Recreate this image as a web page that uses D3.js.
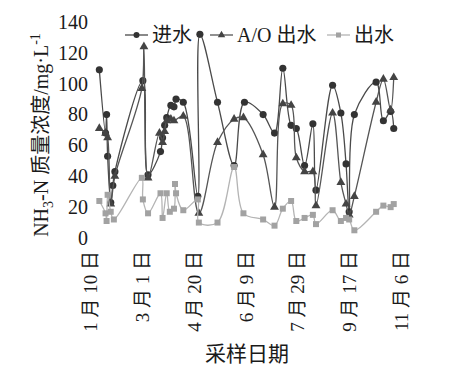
<!DOCTYPE html>
<html lang="zh">
  <head>
    <meta charset="utf-8" />
    <script src="https://d3js.org/d3.v7.min.js"></script>
    <style>
      body {
        margin: 0;
        background-color: #fff;
      }
      text {
        font-family: "Liberation Serif", "Noto Sans CJK SC", serif;
        fill: #1a1a1a;
      }
    </style>
  </head>
  <body>
    <div id="chart"></div>

    <script>
      // 采样日期 / 数值 (mg/L)
      const inDates = ["01-19","01-25","01-26","01-27","01-30","02-01","02-03","03-02","03-07","03-19","03-21","03-23","03-25","03-29","04-01","04-03","04-10","04-24","04-26","05-13","05-29","06-08","06-26","07-07","07-15","07-23","07-28","08-05","08-13","08-16","09-01","09-09","09-14","09-17","09-22","10-13","10-20","10-27","10-30"];
      const inValues = [109,68,80,53,23,34,43,102,41,56,65,73,78,86,85,90,88,27,132,88,47,88,80,68,110,73,71,47,74,31,99,81,48,17,80,101,76,82,71];

      const aoDates = ["01-19","01-25","01-27","01-30","02-03","03-01","03-03","03-07","03-18","03-21","03-23","03-25","03-29","04-01","04-10","04-25","05-13","05-29","06-07","06-26","07-07","07-15","07-23","07-28","08-05","08-13","08-16","09-01","09-09","09-14","09-17","09-22","10-13","10-20","10-27","10-30"];
      const aoValues = [71,68,65,22,40,97,124,39,68,62,69,76,77,76,79,16,62,77,78,54,20,87,86,52,43,43,21,81,36,22,15,27,88,103,83,104];

      const outDates = ["01-19","01-25","01-26","01-27","01-30","02-02","03-01","03-02","03-07","03-19","03-21","03-25","03-28","04-01","04-02","04-03","04-10","04-24","04-25","05-13","05-29","06-07","06-26","07-07","07-15","07-23","07-28","08-05","08-13","08-16","09-01","09-09","09-14","09-17","09-22","10-13","10-20","10-27","10-30"];
      const outValues = [24,16,11,28,17,12,39,25,16,29,13,29,17,19,35,29,18,25,10,10,46,16,12,8,19,24,11,13,15,9,18,11,13,12,5,17,21,20,22];

      const tickDates = ["01-10","03-01","04-20","06-09","07-29","09-17","11-06"];
      const tickLabels = ["1 月 10 日","3 月 1 日","4 月 20 日","6 月 9 日","7 月 29 日","9 月 17 日","11 月 6 日"];
      const yTicks = [0,20,40,60,80,100,120,140];

      const seriesNames = ["进水","A/O 出水","出水"];

      const width = 450;
      const height = 376;

      const parse = (s) => d3.timeParse("%Y-%m-%d")("2013-" + s);

      const svg = d3
        .select("#chart")
        .append("svg")
        .attr("width", width)
        .attr("height", height);

      const x = d3
        .scaleTime()
        .domain([parse("01-10"), parse("11-06")])
        .range([90, 401]);

      const y = d3.scaleLinear().domain([0, 140]).range([238, 22]);

      // y 轴
      const yAxis = svg
        .append("g")
        .attr("transform", "translate(91,0)")
        .call(d3.axisLeft(y).tickValues(yTicks).tickSize(0).tickPadding(3));
      yAxis.select(".domain").remove();
      yAxis.selectAll("text").style("font-size", "20px").attr("fill", "#1a1a1a");

      // x 轴
      const xAxis = svg
        .append("g")
        .attr("transform", "translate(0,246)")
        .call(
          d3
            .axisBottom(x)
            .tickValues(tickDates.map(parse))
            .tickSize(0)
            .tickFormat((d, i) => tickLabels[i])
        );
      xAxis.select(".domain").remove();
      xAxis
        .selectAll("text")
        .style("font-size", "19px")
        .attr("fill", "#1a1a1a")
        .attr("transform", "rotate(-90)")
        .attr("x", -5)
        .attr("y", 0)
        .attr("dy", "0.35em")
        .attr("text-anchor", "end");

      // 轴标题
      svg
        .append("text")
        .attr("x", 247)
        .attr("y", 361)
        .attr("text-anchor", "middle")
        .style("font-size", "21px")
        .text("采样日期");

      const yTitle = svg
        .append("text")
        .attr("transform", "translate(48,135) rotate(-90)")
        .attr("text-anchor", "middle")
        .style("font-size", "20px");
      yTitle.append("tspan").text("NH");
      yTitle.append("tspan").attr("dy", 5).style("font-size", "14px").text("3");
      yTitle.append("tspan").attr("dy", -5).text("-N 质量浓度/mg·L");
      yTitle.append("tspan").attr("dy", -8).style("font-size", "14px").text("-1");

      const series = [
        { name: seriesNames[0], dates: inDates, values: inValues, line: "#4a4a4a", mark: "#333", shape: d3.symbolCircle, size: 40 },
        { name: seriesNames[1], dates: aoDates, values: aoValues, line: "#555", mark: "#444", shape: d3.symbolTriangle, size: 34 },
        { name: seriesNames[2], dates: outDates, values: outValues, line: "#b4b4b4", mark: "#a2a2a2", shape: d3.symbolSquare, size: 36 }
      ];

      const line = d3
        .line()
        .x((d) => x(d.date))
        .y((d) => y(d.value))
        .curve(d3.curveCatmullRom);

      series.forEach((s) => {
        const pts = s.dates.map((d, i) => ({ date: parse(d), value: s.values[i] }));

        svg
          .append("path")
          .datum(pts)
          .attr("d", line)
          .attr("fill", "none")
          .attr("stroke", s.line)
          .attr("stroke-width", 1.3);

        svg
          .append("g")
          .selectAll("path")
          .data(pts)
          .join("path")
          .attr("d", d3.symbol().type(s.shape).size(s.size))
          .attr("transform", (d) => `translate(${x(d.date)},${y(d.value)})`)
          .attr("fill", s.mark);
      });

      // 图例
      const legendX = [125, 210, 327];
      const legend = svg
        .selectAll(".legend")
        .data(series)
        .join("g")
        .attr("class", "legend")
        .attr("transform", (d, i) => `translate(${legendX[i]},35)`);
      legend
        .append("line")
        .attr("x1", 0)
        .attr("x2", 23)
        .attr("stroke", (d) => d.line)
        .attr("stroke-width", 1.3);
      legend
        .append("path")
        .attr("d", (d) => d3.symbol().type(d.shape).size(d.size * 0.7)())
        .attr("transform", "translate(11.5,0)")
        .attr("fill", (d) => d.mark);
      legend
        .append("text")
        .attr("x", 27)
        .attr("dy", "0.35em")
        .style("font-size", "20px")
        .text((d) => d.name);
    </script>
  </body>
</html>
